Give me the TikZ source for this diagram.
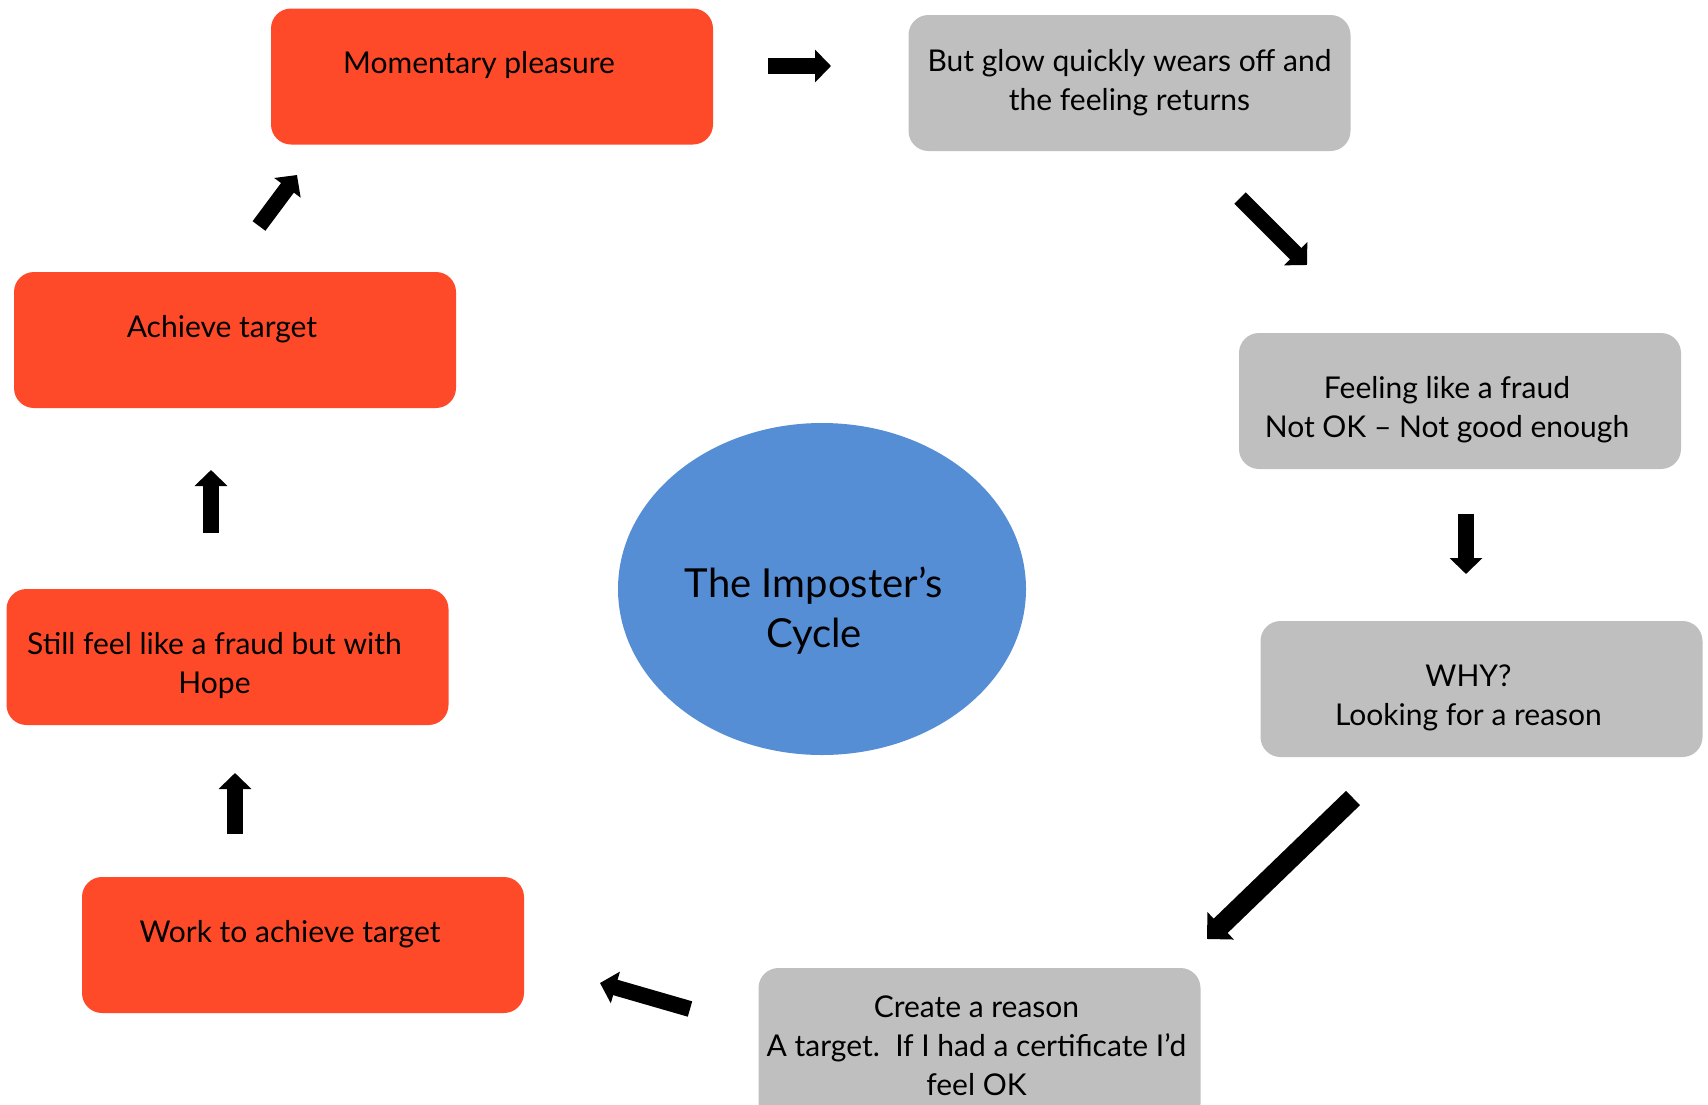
\documentclass[tikz,border=0pt]{standalone}
\usepackage{fontspec}
\setmainfont{Lato}
\usetikzlibrary{arrows.meta,shapes.geometric}
\definecolor{hotred}{RGB}{255,74,42}
\definecolor{dullgray}{RGB}{191,191,191}
\definecolor{cycleblue}{RGB}{85,142,213}

\begin{document}
\begin{tikzpicture}[x=0.5pt,y=-0.5pt,
    box/.style={rounded corners=10pt,minimum width=221pt,minimum height=68pt,inner sep=0pt},
    hot/.style={box,fill=hotred},
    dull/.style={box,fill=dullgray},
    steptext/.style={inner sep=0pt,align=center,font=\fontsize{15}{19.5}\selectfont},
    blockarrow/.style={line width=8pt,-{Triangle[width=16pt,length=8pt]}},
    bigarrow/.style={line width=10pt,-{Triangle[width=18.5pt,length=9.5pt]}}]
  \useasboundingbox (0,0) rectangle (1708,1104);

  % the steps of the cycle
  \node[hot] (pleasure) at (492,76.5) {};
  \node[dull] (glow) at (1129.5,83) {};
  \node[dull] (fraud) at (1460,401) {};
  \node[dull] (why) at (1481.5,689) {};
  \node[dull,minimum height=78pt] (reason) at (979.5,1046) {};
  \node[hot] (work) at (303,945) {};
  \node[hot] (hope) at (227.5,657) {};
  \node[hot] (target) at (235,340) {};

  \node[steptext] (pleasuretext) at ([shift={(-13,-11)}]pleasure) {Momentary pleasure};
  \node[steptext] (glowtext) at (glow) {But glow quickly wears off and\\the feeling returns};
  \node[steptext] (fraudtext) at ([shift={(-13,9)}]fraud) {Feeling like a fraud\\Not OK – Not good enough};
  \node[steptext] (whytext) at ([shift={(-13,9)}]why) {WHY?\\Looking for a reason};
  \node[steptext] (reasontext) at ([shift={(-3,0)}]reason)
    {Create a reason\\A target.\ \ If I had a certificate I’d\\feel OK};
  \node[steptext] (worktext) at ([shift={(-13,-11)}]work) {Work to achieve target};
  \node[steptext] (hopetext) at ([shift={(-13,9)}]hope) {Still feel like a fraud but with\\Hope};
  \node[steptext] (targettext) at ([shift={(-13,-11)}]target) {Achieve target};

  % centre
  \node[ellipse,fill=cycleblue,minimum width=204pt,minimum height=166pt] (cycle) at (822,589) {};
  \node[align=center,font=\fontsize{20}{25}\selectfont] (cyclename) at (814,611) {The Imposter’s\\Cycle};

  % arrows
  \coordinate (p1) at (768,66);   \coordinate (q1) at (831,66);
  \coordinate (p2) at (1240,198); \coordinate (q2) at (1307,265);
  \coordinate (p3) at (1466,514); \coordinate (q3) at (1466,574);
  \coordinate (p4) at (1353,798); \coordinate (q4) at (1207,939);
  \coordinate (p5) at (690,1009); \coordinate (q5) at (600,983);
  \coordinate (p6) at (235,834);  \coordinate (q6) at (235,773);
  \coordinate (p7) at (211,533);  \coordinate (q7) at (211,470);
  \coordinate (p8) at (259,226);  \coordinate (q8) at (297,175);
  \foreach \i in {1,2,3,5,6,7,8}
    \draw[blockarrow] (p\i) -- (q\i);
  \draw[bigarrow] (p4) -- (q4);
\end{tikzpicture}
\end{document}
